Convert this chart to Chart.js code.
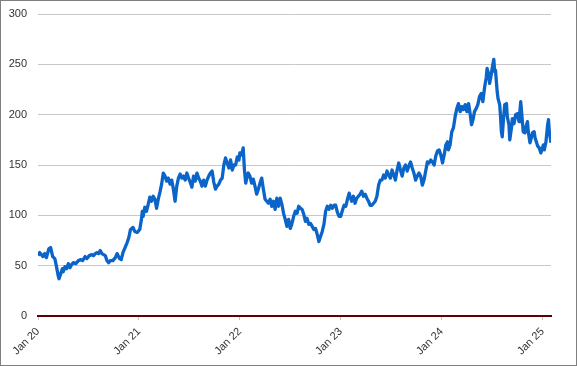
<!DOCTYPE html>
<html>
<head>
<meta charset="utf-8">
<script src="https://cdn.jsdelivr.net/npm/chart.js@4/dist/chart.umd.min.js"></script>
<style>
  html, body { margin: 0; padding: 0; background: #fff; }
  #marco { width: 577px; height: 366px; box-sizing: border-box; border: 1px solid #7f7f7f; }
  canvas { display: block; }
</style>
</head>
<body>
<div id="marco"><canvas id="grafico" width="575" height="364"></canvas></div>
<script>
// months since Jan 2020
const months = [
  0, 0.2, 0.6, 0.8, 1.0, 1.3, 1.5, 1.75, 2.0, 2.2, 2.4, 2.5, 2.7, 2.9, 3.0, 3.2, 3.4, 3.6, 3.8, 4.0, 4.2, 4.5, 4.8, 5.1, 5.3, 5.6, 5.8, 6.1, 6.4, 6.6, 6.8, 7.0, 7.2, 7.4, 7.6, 7.8, 8.0, 8.2, 8.4, 8.6, 8.9, 9.2, 9.4, 9.7, 9.9, 10.1, 10.3, 10.6, 10.8, 11.0, 11.3, 11.5, 11.8,
  12.1, 12.3, 12.4, 12.5, 12.7, 12.9, 13.1, 13.3, 13.5, 13.7, 13.9, 14.1, 14.3, 14.5, 14.7, 14.9, 15.1, 15.3, 15.5, 15.7, 15.9, 16.1, 16.3, 16.5, 16.7, 16.9, 17.1, 17.3, 17.5, 17.7, 17.9, 18.1, 18.3, 18.5, 18.7, 18.9, 19.1, 19.3, 19.5, 19.7, 19.9, 20.1, 20.3, 20.5, 20.7, 20.9, 21.1, 21.3, 21.5, 21.7, 21.9, 22.1, 22.3, 22.5, 22.7, 22.9, 23.1, 23.3, 23.5, 23.7, 23.9,
  24.0, 24.2, 24.4, 24.55, 24.7, 24.8, 25.0, 25.2, 25.4, 25.6, 25.8, 26.0, 26.2, 26.4, 26.6, 26.8, 27.0, 27.2, 27.4, 27.6, 27.8, 28.0, 28.2, 28.4, 28.6, 28.8, 29.0, 29.2, 29.4, 29.6, 29.8, 30.0, 30.2, 30.4, 30.6, 30.8, 31.0, 31.2, 31.4, 31.6, 31.8, 32.0, 32.2, 32.4, 32.6, 32.8, 33.0, 33.2, 33.4, 33.6, 33.8, 34.0, 34.2, 34.4, 34.6, 34.8, 35.0, 35.2, 35.4, 35.6, 35.8,
  36.0, 36.2, 36.4, 36.6, 36.8, 37.0, 37.1, 37.3, 37.5, 37.7, 37.9, 38.1, 38.3, 38.5, 38.7, 38.9, 39.1, 39.3, 39.5, 39.7, 39.9, 40.1, 40.3, 40.5, 40.7, 40.9, 41.1, 41.3, 41.5, 41.7, 41.9, 42.1, 42.3, 42.5, 42.7, 42.9, 43.1, 43.3, 43.5, 43.7, 43.9, 44.1, 44.3, 44.5, 44.7, 44.9, 45.1, 45.3, 45.5, 45.7, 45.9, 46.1, 46.3, 46.5, 46.7, 46.9, 47.1, 47.3, 47.5, 47.7, 47.9,
  48.1, 48.3, 48.5, 48.7, 48.8, 49.0, 49.2, 49.4, 49.6, 49.8, 50.0, 50.2, 50.4, 50.6, 50.8, 51.0, 51.2, 51.4, 51.55, 51.75, 51.9, 52.1, 52.3, 52.5, 52.7, 52.9, 53.1, 53.3, 53.4, 53.6, 53.7, 53.9, 54.0, 54.2, 54.3, 54.4, 54.6, 54.7, 54.9, 55.0, 55.1, 55.2, 55.35, 55.5, 55.7, 55.8, 56.0, 56.1, 56.3, 56.4, 56.6, 56.8, 57.0, 57.2, 57.3, 57.4, 57.6, 57.7, 57.9, 58.0, 58.2, 58.3, 58.5, 58.6, 58.8, 59.0, 59.1, 59.3, 59.4, 59.6, 59.8, 59.9, 60.1, 60.2, 60.4, 60.6, 60.7, 60.8, 61.0
];

const prices = [
  60, 63, 59, 62, 58, 67, 68, 59, 57, 49, 40, 37, 42, 47, 44, 49, 47, 52, 48, 51, 53, 52, 55, 56, 55, 59, 57, 60, 61, 60, 62, 63, 62, 65, 62, 61, 60, 55, 53, 55, 55, 58, 62, 57, 56, 63, 67, 73, 78, 86, 88, 84, 83,
  86, 96, 104, 99, 108, 104, 111, 118, 114, 119, 116, 107, 116, 123, 131, 142, 139, 134, 137, 131, 135, 126, 114, 129, 137, 141, 137, 139, 135, 142, 137, 133, 128, 139, 134, 142, 137, 134, 129, 135, 129, 135, 139, 142, 144, 133, 126, 129, 131, 135, 137, 150, 157, 152, 147, 155, 145, 150, 150, 158, 155,
  162, 160, 167, 145, 132, 136, 142, 139, 132, 136, 129, 121, 126, 132, 137, 126, 116, 114, 112, 116, 109, 114, 106, 117, 109, 117, 111, 102, 96, 89, 96, 87, 92, 99, 104, 102, 109, 107, 106, 101, 94, 97, 91, 92, 89, 86, 87, 81, 74, 79, 84, 91, 104, 109, 106, 110, 107, 110, 110, 103, 99,
  99, 105, 110, 109, 116, 122, 119, 114, 119, 112, 117, 119, 121, 124, 119, 121, 117, 114, 110, 110, 112, 114, 119, 130, 135, 135, 140, 137, 144, 140, 137, 145, 140, 135, 145, 152, 145, 139, 147, 150, 144, 149, 153, 147, 142, 135, 139, 142, 139, 130, 135, 144, 153, 152, 155, 153, 150, 159, 164, 165, 160,
  152, 160, 170, 173, 165, 170, 183, 187, 198, 206, 211, 203, 208, 205, 210, 203, 211, 200, 190, 196, 203, 206, 210, 218, 221, 213, 227, 237, 246, 240, 231, 240, 246, 255, 243, 244, 223, 216, 210, 198, 183, 178, 196, 210, 211, 198, 190, 175, 187, 196, 191, 200, 201, 193, 203, 213, 193, 183, 182, 187, 193, 183, 172, 175, 182, 183, 177, 172, 169, 167, 162, 165, 170, 165, 173, 190, 195, 183, 172
];

const tickMonths = [0, 12, 24, 36, 48, 60];
const tickLabels = ['Jan 20', 'Jan 21', 'Jan 22', 'Jan 23', 'Jan 24', 'Jan 25'];

const fuente = { family: 'Liberation Sans, Arial, sans-serif', size: 11 };
const colorTexto = '#333333';

const puntos = months.map((m, i) => ({ x: m, y: prices[i] }));

new Chart(document.getElementById('grafico'), {
  type: 'line',
  data: {
    datasets: [{
      data: puntos,
      borderColor: '#0b64c8',
      borderWidth: 3.3,
      borderJoinStyle: 'round',
      pointRadius: 0,
      tension: 0,
      fill: false
    }]
  },
  options: {
    responsive: false,
    animation: false,
    events: [],
    layout: { padding: { top: 13, right: 25, left: 0, bottom: 0 } },
    plugins: { legend: { display: false }, tooltip: { enabled: false } },
    scales: {
      x: {
        type: 'linear',
        min: 0,
        max: 61,
        afterBuildTicks: s => { s.ticks = tickMonths.map(v => ({ value: v })); },
        afterFit: s => { s.height = 49; },
        grid: { drawOnChartArea: false, drawTicks: true, tickLength: 4, color: '#bfbfbf' },
        border: { color: '#5c0000', width: 2 },
        ticks: {
          autoSkip: false,
          minRotation: 45,
          maxRotation: 45,
          padding: 5,
          font: fuente,
          color: colorTexto,
          callback: (v) => tickLabels[tickMonths.indexOf(v)]
        }
      },
      y: {
        min: 0,
        max: 300,
        afterFit: s => { s.width = 37; },
        // marcas invisibles: separan las etiquetas sin añadir relleno arriba
        grid: { color: '#c8c8c8', drawTicks: true, tickLength: 7, tickColor: 'rgba(0,0,0,0)' },
        border: { display: false },
        ticks: { stepSize: 50, padding: 4, font: fuente, color: colorTexto }
      }
    }
  }
});
</script>
</body>
</html>
